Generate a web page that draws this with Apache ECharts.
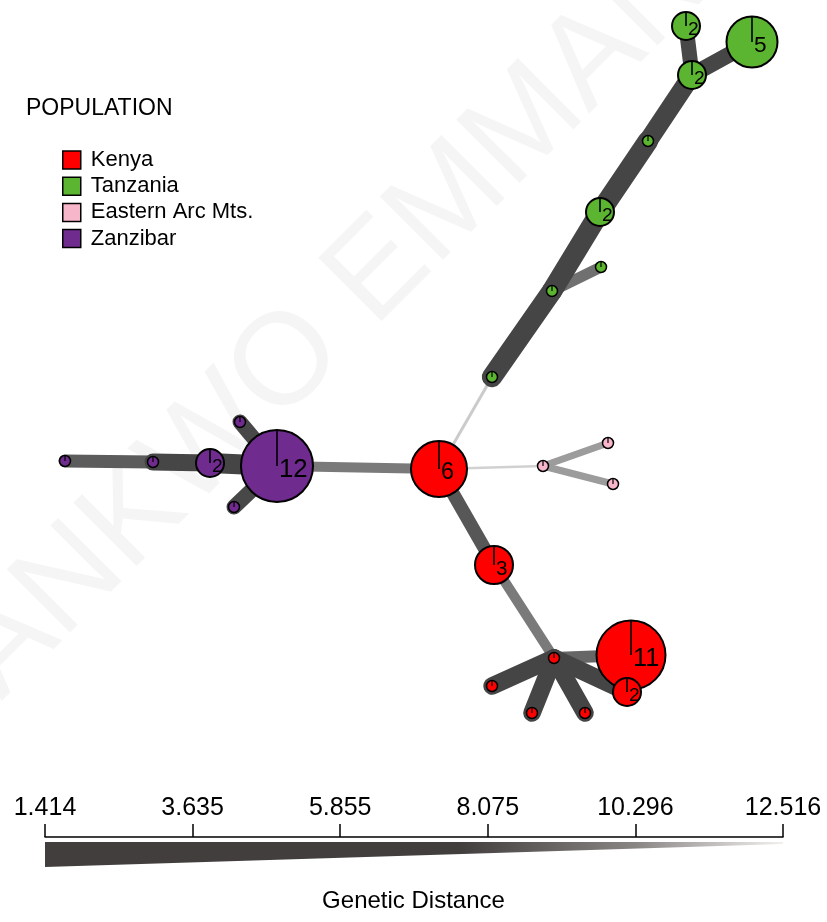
<!DOCTYPE html>
<html>
<head>
<meta charset="utf-8">
<script src="https://cdn.jsdelivr.net/npm/echarts@6/dist/echarts.min.js"></script>
<style>
  html, body { margin: 0; padding: 0; background: #fff; }
  #chart { width: 827px; height: 922px; }
</style>
</head>
<body>
<div id="chart"></div>
<script>
// populations
var populations = ['Kenya', 'Tanzania', 'Eastern Arc Mts.', 'Zanzibar'];
var popColors = ['#ff0000', '#5cb531', '#f8b6cb', '#702b8f'];

// haplotype nodes (layout position, haplotype count, population index)
var nodeNames = ['P12', 'P2', 'Pa', 'Pb', 'Pc', 'Pd',
                 'K6', 'K3', 'Kh', 'K11', 'K2', 'Ka', 'Kb', 'Kc',
                 'Ea', 'Eb', 'Ec',
                 'Ga', 'Gb', 'Gc', 'G2', 'Gd', 'G2b', 'G2c', 'G5'];
var nodeX = [277, 210, 153, 65, 240, 234,
             439, 494, 554, 631, 627, 492, 532, 585,
             543, 608, 613,
             492, 552, 601, 600, 648, 692, 686, 752];
var nodeY = [466, 463, 462, 461, 422, 507,
             469, 565, 658, 655, 692, 686, 713, 713,
             466, 443, 484,
             377, 291, 267, 212, 141, 75, 26, 42];
var nodeCount = [12, 2, 1, 1, 1, 1,
                 6, 3, 1, 11, 2, 1, 1, 1,
                 1, 1, 1,
                 1, 1, 1, 2, 1, 2, 2, 5];
var nodePop = [3, 3, 3, 3, 3, 3,
               0, 0, 0, 0, 0, 0, 0, 0,
               2, 2, 2,
               1, 1, 1, 1, 1, 1, 1, 1];

// links and their genetic distance
var edgeFrom = ['Pb', 'Pa', 'P2', 'P12', 'P12', 'P12', 'K6', 'K6', 'Ea', 'Ea',
                'K6', 'K3', 'Kh', 'Kh', 'Kh', 'Kh', 'Kh',
                'Ga', 'Gb', 'Gb', 'G2', 'Gd', 'G2b', 'G2b'];
var edgeTo = ['Pa', 'P2', 'P12', 'Pc', 'Pd', 'K6', 'Ga', 'Ea', 'Eb', 'Ec',
              'K3', 'Kh', 'K11', 'Ka', 'Kb', 'Kc', 'K2',
              'Gb', 'Gc', 'G2', 'Gd', 'G2b', 'G2c', 'G5'];
var edgeDist = [7.43, 5.58, 4.19, 6.50, 6.50, 8.82, 12.05, 12.28, 10.20, 10.20,
                7.20, 8.82, 7.89, 5.30, 5.30, 5.30, 5.30,
                4.00, 8.35, 4.00, 4.00, 4.65, 6.50, 6.04];

// scale bar
var distMin = 1.414;
var distMax = 12.516;
var tickValues = [1.414, 3.635, 5.855, 8.075, 10.296, 12.516];

var radiusByCount = { 1: 5.5, 2: 14, 3: 19, 5: 25.5, 6: 28, 11: 34.5, 12: 36 };
var numFont = '"Liberation Sans Narrow", "Liberation Sans", sans-serif';
var textFont = '"Liberation Sans", Arial, sans-serif';

var nodeIndex = {};
nodeNames.forEach(function(n, i) { nodeIndex[n] = i; });

function edgeWidth(d) {
  var t = (d - distMin) / (distMax - distMin);
  return 2 + 24 * (1 - t);
}
function edgeColor(d) {
  var t = (d - distMin) / (distMax - distMin);
  var g;
  if (t <= 0.45) g = 68 + 4 * t;
  else if (t <= 0.7) g = 70 + (t - 0.45) / 0.25 * 60;
  else g = 130 + (t - 0.7) / 0.3 * 85;
  g = Math.round(g);
  return 'rgb(' + g + ',' + g + ',' + g + ')';
}

var chart = echarts.init(document.getElementById('chart'));

var edgeSeries = {
  type: 'custom',
  coordinateSystem: 'cartesian2d',
  xAxisIndex: 0,
  yAxisIndex: 0,
  silent: true,
  z: 1,
  data: edgeDist.map(function(d, i) { return [i, d]; }),
  renderItem: function(params, api) {
    var i = api.value(0);
    var d = api.value(1);
    var a = nodeIndex[edgeFrom[i]], b = nodeIndex[edgeTo[i]];
    var p1 = api.coord([nodeX[a], nodeY[a]]);
    var p2 = api.coord([nodeX[b], nodeY[b]]);
    return {
      type: 'line',
      shape: { x1: p1[0], y1: p1[1], x2: p2[0], y2: p2[1] },
      style: { stroke: edgeColor(d), lineWidth: edgeWidth(d), lineCap: 'round' }
    };
  }
};

var nodeSeries = populations.map(function(pop, p) {
  var data = [];
  nodeNames.forEach(function(n, i) {
    if (nodePop[i] === p) data.push([nodeX[i], nodeY[i], nodeCount[i]]);
  });
  return {
    type: 'custom',
    name: pop,
    coordinateSystem: 'cartesian2d',
    xAxisIndex: 0,
    yAxisIndex: 0,
    silent: true,
    z: 3,
    itemStyle: { color: popColors[p], borderColor: '#000', borderWidth: 1.5 },
    encode: { x: 0, y: 1 },
    data: data,
    renderItem: function(params, api) {
      var pt = api.coord([api.value(0), api.value(1)]);
      var c = api.value(2);
      var r = radiusByCount[c];
      var big = r > 10;
      var children = [
        { type: 'circle', shape: { cx: pt[0], cy: pt[1], r: r },
          style: { fill: popColors[p], stroke: '#000', lineWidth: big ? 2 : 1.5 } },
        { type: 'line', shape: { x1: pt[0], y1: pt[1], x2: pt[0], y2: pt[1] - r },
          style: { stroke: '#000', lineWidth: big ? 1.6 : 1.2 } }
      ];
      if (c > 1) {
        children.push({
          type: 'text', x: pt[0] + 2, y: pt[1] + 4,
          style: { text: String(c), fontSize: 15 + r * 0.3, fontFamily: numFont,
                   fill: '#000', align: 'left', verticalAlign: 'middle' }
        });
      }
      return { type: 'group', children: children };
    }
  };
});

var wedgeSeries = {
  type: 'custom',
  coordinateSystem: 'cartesian2d',
  xAxisIndex: 1,
  yAxisIndex: 1,
  silent: true,
  data: [[distMin, distMax]],
  renderItem: function(params, api) {
    var x0 = api.coord([api.value(0), 0])[0];
    var x1 = api.coord([api.value(1), 0])[0];
    var y0 = params.coordSys.y;
    return {
      type: 'polygon',
      shape: { points: [[x0, y0 + 5], [x1, y0 + 5], [x1, y0 + 7], [x0, y0 + 30]] },
      style: {
        fill: new echarts.graphic.LinearGradient(0, 0, 1, 0, [
          { offset: 0, color: '#433e3e' },
          { offset: 0.56, color: '#433e3e' },
          { offset: 0.63, color: '#585353' },
          { offset: 0.8, color: '#8a8585' },
          { offset: 1, color: '#f2f0ee' }
        ])
      }
    };
  }
};

chart.setOption({
  animation: false,
  backgroundColor: '#fff',
  title: [
    { text: 'POPULATION', left: 26, top: 97, padding: 0,
      textStyle: { fontSize: 23, fontWeight: 'normal', color: '#000', fontFamily: textFont } },
    { text: 'Genetic Distance', left: 'center', top: 889, padding: 0,
      textStyle: { fontSize: 24, fontWeight: 'normal', color: '#000', fontFamily: textFont } }
  ],
  legend: {
    data: populations,
    orient: 'vertical',
    left: 62,
    top: 149,
    padding: 0,
    itemWidth: 18,
    itemHeight: 18,
    itemGap: 4.2,
    icon: 'rect',
    selectedMode: false,
    itemStyle: { borderColor: '#000', borderWidth: 1.5 },
    textStyle: { fontSize: 22, lineHeight: 18, color: '#000', fontFamily: textFont, padding: [0, 0, 0, 5] }
  },
  graphic: [{
    type: 'text', x: -70, y: 630, rotation: Math.PI / 4, z: -10, silent: true,
    style: { text: 'ANKWO EMMAN', fontSize: 130, fill: '#f5f5f5', fontFamily: textFont }
  }],
  grid: [
    { left: 0, top: 0, width: 827, height: 922 },
    { left: 45, top: 837, width: 738, height: 30 }
  ],
  xAxis: [
    { gridIndex: 0, type: 'value', min: 0, max: 827, show: false },
    { gridIndex: 1, type: 'value', min: distMin, max: distMax, position: 'top',
      splitLine: { show: false },
      axisLine: { show: true, lineStyle: { color: '#000', width: 1.5 } },
      axisTick: { show: true, length: 13, customValues: tickValues, lineStyle: { color: '#000', width: 1.5 } },
      axisLabel: { customValues: tickValues, margin: 16, fontSize: 25, color: '#000', fontFamily: textFont,
                   formatter: function(v) { return v.toFixed(3); } } }
  ],
  yAxis: [
    { gridIndex: 0, type: 'value', min: 0, max: 922, inverse: true, show: false },
    { gridIndex: 1, type: 'value', min: 0, max: 30, inverse: true, show: false }
  ],
  series: [edgeSeries].concat(nodeSeries).concat([wedgeSeries])
});
window.addEventListener('resize', function() { chart.resize(); });
</script>
</body>
</html>
